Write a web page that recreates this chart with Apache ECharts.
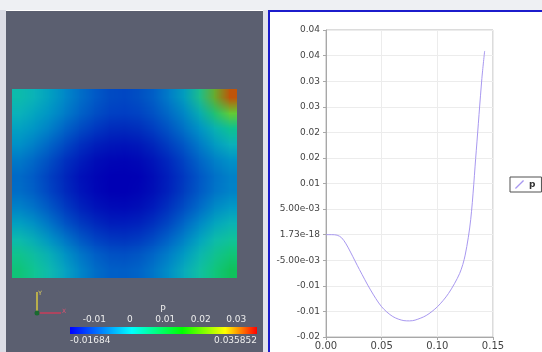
<!DOCTYPE html>
<html>
<head>
<meta charset="utf-8">
<script src="https://cdn.jsdelivr.net/npm/echarts@6/dist/echarts.min.js"></script>
<style>
html, body { margin: 0; padding: 0; background: #ffffff; }
#main { width: 542px; height: 352px; position: relative; }
/* the field is drawn one pixel per cell and scaled up, so the browser blends the cells */
#field {
  position: absolute;
  left: 12px;
  top: 89px;
  width: 15px;
  height: 12px;
  transform: scale(15, 15.75);
  transform-origin: 0 0;
  z-index: 2;
}
</style>
</head>
<body>
<div id="main"></div>
<div id="field"></div>
<script>
// pressure along the diagonal probe line (right panel)
var probeX = [0, 0.005, 0.010, 0.014, 0.018, 0.022, 0.03, 0.04, 0.05, 0.06, 0.07, 0.075, 0.08, 0.09, 0.10, 0.11, 0.12, 0.125, 0.13, 0.135, 0.14, 0.1425];
var probeP = [0, 0, -0.0001, -0.0006, -0.0018, -0.0034, -0.0068, -0.0108, -0.0141, -0.0160, -0.0168, -0.01685, -0.0167, -0.0158, -0.0141, -0.0115, -0.0076, -0.0040, 0.0030, 0.0165, 0.0305, 0.0359];
var yTickLabels = ["-0.02", "-0.01", "-0.01", "-5.00e-03", "1.73e-18", "5.00e-03", "0.01", "0.02", "0.02", "0.03", "0.03", "0.04", "0.04"];

// colour bar of the field view
var pMin = -0.01684;
var pMax = 0.035852;
var barLabels = [-0.01, 0, 0.01, 0.02, 0.03];
var barTicks = [-0.015, -0.0125, -0.01, -0.0075, -0.005, -0.0025, 0, 0.0025, 0.005, 0.0075, 0.01, 0.0125, 0.015, 0.0175, 0.02, 0.0225, 0.025, 0.0275, 0.03, 0.0325, 0.035];

// pressure field (rows top -> bottom, columns left -> right)
var pressureGrid = [
  [0.004, 0.002, 0.0, -0.003, -0.006, -0.008, -0.0095, -0.0100, -0.0095, -0.008, -0.005, -0.0015, 0.005, 0.020, 0.0358],
  [0.002, 0.0005, -0.0015, -0.004, -0.0065, -0.0085, -0.0100, -0.0105, -0.0100, -0.0088, -0.0065, -0.004, 0.001, 0.010, 0.021],
  [0.0, -0.0015, -0.0035, -0.006, -0.0085, -0.0105, -0.0118, -0.0122, -0.0118, -0.0105, -0.0085, -0.0058, -0.0025, 0.002, 0.008],
  [-0.002, -0.0035, -0.0058, -0.0085, -0.011, -0.0128, -0.0138, -0.0142, -0.0138, -0.0126, -0.0106, -0.008, -0.005, -0.0015, 0.002],
  [-0.0045, -0.0062, -0.0085, -0.011, -0.013, -0.0148, -0.0157, -0.016, -0.0156, -0.0145, -0.0127, -0.0103, -0.0075, -0.0045, -0.0022],
  [-0.0065, -0.008, -0.0102, -0.0125, -0.0145, -0.0158, -0.0165, -0.0167, -0.0164, -0.0155, -0.0138, -0.0117, -0.009, -0.0065, -0.0045],
  [-0.0068, -0.0082, -0.0104, -0.0127, -0.0147, -0.016, -0.0167, -0.0168, -0.0166, -0.0157, -0.014, -0.0118, -0.0092, -0.0068, -0.005],
  [-0.005, -0.0068, -0.009, -0.0115, -0.0137, -0.0152, -0.016, -0.0162, -0.0158, -0.0148, -0.013, -0.0105, -0.0078, -0.005, -0.003],
  [-0.002, -0.0038, -0.0065, -0.0093, -0.0118, -0.0135, -0.0145, -0.0148, -0.0144, -0.0132, -0.0112, -0.0085, -0.0055, -0.0022, 0.0005],
  [0.002, 0.0, -0.003, -0.0062, -0.009, -0.011, -0.0122, -0.0126, -0.0121, -0.0108, -0.0087, -0.0058, -0.0025, 0.0015, 0.0045],
  [0.006, 0.0035, 0.0005, -0.0028, -0.006, -0.0083, -0.0098, -0.0102, -0.0097, -0.0082, -0.006, -0.003, 0.0005, 0.0045, 0.008],
  [0.0095, 0.0068, 0.0035, 0.0, -0.0035, -0.0062, -0.0078, -0.0083, -0.0078, -0.0062, -0.0038, -0.0005, 0.0035, 0.0075, 0.0115]
];

var font = "DejaVu Sans";
var colIdx = pressureGrid[0].map(function (v, i) { return i; });
var rowIdx = pressureGrid.map(function (r, j) { return j; });
var heatData = [];
for (var j = 0; j < pressureGrid.length; j++) {
  for (var i = 0; i < pressureGrid[j].length; i++) {
    heatData.push([i, j, pressureGrid[j][i]]);
  }
}
var lineData = [];
for (var k = 0; k < probeX.length; k++) {
  lineData.push([probeX[k], probeP[k]]);
}

// left: pressure field
var fieldChart = echarts.init(document.getElementById("field"), null, { width: 15, height: 12, devicePixelRatio: 1 });
fieldChart.setOption({
  animation: false,
  grid: { left: 0, top: 0, right: 0, bottom: 0 },
  xAxis: { type: "category", data: colIdx, show: false },
  yAxis: { type: "category", data: rowIdx, inverse: true, show: false },
  visualMap: {
    show: false,
    min: pMin,
    max: pMax,
    inRange: {
      color: ["#0000b4", "#0034c0", "#0068c8", "#0098c8", "#10bcb4", "#10c88c", "#10c058", "#30c030", "#90d010", "#e0e000", "#f08000", "#e02000"]
    }
  },
  series: [{
    type: "heatmap",
    data: heatData,
    silent: true,
    emphasis: { disabled: true }
  }]
});

// right: line plot + panel decorations
var myChart = echarts.init(document.getElementById("main"));
myChart.setOption({
  animation: false,
  backgroundColor: "#ffffff",
  graphic: [
    { type: "rect", z: -10, shape: { x: 0, y: 0, width: 542, height: 10 }, style: { fill: "#eef0f3" } },
    { type: "rect", z: -10, shape: { x: 0, y: 10, width: 6, height: 342 }, style: { fill: "#dcdde6" } },
    { type: "rect", z: -10, shape: { x: 6, y: 11, width: 257, height: 341 }, style: { fill: "#5b5f70" } },
    { type: "rect", z: -10, shape: { x: 263, y: 10, width: 5, height: 342 }, style: { fill: "#e2e3ea" } },
    { type: "rect", z: -9, shape: { x: 268, y: 10, width: 274, height: 2 }, style: { fill: "#1c1ccc" } },
    { type: "rect", z: -9, shape: { x: 268, y: 10, width: 2, height: 342 }, style: { fill: "#1c1ccc" } },
    {
      type: "rect", z: 1,
      shape: { x: 70, y: 327, width: 187, height: 7 },
      style: {
        fill: new echarts.graphic.LinearGradient(0, 0, 1, 0, [
          { offset: 0, color: "#0000ff" },
          { offset: 0.33, color: "#00ffff" },
          { offset: 0.6, color: "#00ff00" },
          { offset: 0.83, color: "#ffff00" },
          { offset: 1, color: "#ff0000" }
        ])
      }
    },
    { type: "text", z: 2, x: 163, y: 310, style: { text: "P", fill: "#eeeeee", font: "9px " + font, align: "center", verticalAlign: "middle" } },
    { type: "text", z: 2, x: 70, y: 341, style: { text: "-0.01684", fill: "#eeeeee", font: "9px " + font, align: "left", verticalAlign: "middle" } },
    { type: "text", z: 2, x: 257, y: 341, style: { text: "0.035852", fill: "#eeeeee", font: "9px " + font, align: "right", verticalAlign: "middle" } },
    { type: "line", z: 2, shape: { x1: 37, y1: 292, x2: 37, y2: 313 }, style: { stroke: "#d8c840", lineWidth: 1.5 } },
    { type: "line", z: 2, shape: { x1: 37, y1: 313, x2: 61, y2: 313 }, style: { stroke: "#c83c5a", lineWidth: 1.5 } },
    { type: "circle", z: 3, shape: { cx: 37, cy: 313, r: 2.5 }, style: { fill: "#1a6a30" } },
    { type: "text", z: 2, x: 40, y: 293, style: { text: "Y", fill: "#e0d060", font: "6px " + font, align: "center", verticalAlign: "middle" } },
    { type: "text", z: 2, x: 64, y: 311, style: { text: "X", fill: "#e05070", font: "6px " + font, align: "center", verticalAlign: "middle" } }
  ],
  grid: [
    { left: 70, top: 327, width: 187, height: 7 },
    { left: 326, top: 30, width: 167, height: 307, show: true, borderColor: "#b8b8b8", borderWidth: 1 }
  ],
  legend: {
    data: [{ name: "p", icon: "path://M0,9L9,0L10,1L1,10Z" }],
    left: 510,
    top: 177,
    padding: [3, 6, 3, 5],
    borderColor: "#505050",
    borderWidth: 1,
    itemWidth: 9,
    itemHeight: 9,
    textStyle: { fontFamily: font, fontSize: 9, fontWeight: "bold", color: "#333333" }
  },
  xAxis: [
    {
      gridIndex: 0,
      type: "value",
      min: pMin,
      max: pMax,
      position: "top",
      axisLine: { show: false },
      splitLine: { show: false },
      axisTick: { show: true, customValues: barTicks, length: 3, lineStyle: { color: "#e6e6e6" } },
      axisLabel: {
        customValues: barLabels,
        margin: 3,
        color: "#eeeeee",
        fontFamily: font,
        fontSize: 9,
        formatter: function (v) { return Math.abs(v) < 1e-9 ? "0" : v.toFixed(2); }
      }
    },
    {
      gridIndex: 1,
      type: "value",
      min: 0,
      max: 0.15,
      interval: 0.05,
      axisLine: { onZero: false, lineStyle: { color: "#a8a8a8" } },
      axisTick: { length: 3, lineStyle: { color: "#a8a8a8" } },
      splitLine: { lineStyle: { color: "#ececec" } },
      axisLabel: {
        margin: 4,
        color: "#444444",
        fontFamily: font,
        fontSize: 10,
        formatter: function (v) { return v.toFixed(2); }
      }
    }
  ],
  yAxis: [
    { gridIndex: 0, type: "value", show: false },
    {
      gridIndex: 1,
      type: "value",
      min: -0.02,
      max: 0.04,
      interval: 0.005,
      axisLine: { show: true, onZero: false, lineStyle: { color: "#a8a8a8" } },
      axisTick: { show: true, length: 3, lineStyle: { color: "#a8a8a8" } },
      splitLine: { lineStyle: { color: "#ececec" } },
      axisLabel: {
        margin: 6,
        color: "#444444",
        fontFamily: font,
        fontSize: 9,
        formatter: function (v) {
          return yTickLabels[Math.round((v + 0.02) / 0.005)];
        }
      }
    }
  ],
  series: [
    {
      name: "p",
      type: "line",
      xAxisIndex: 1,
      yAxisIndex: 1,
      data: lineData,
      showSymbol: false,
      smooth: 0.3,
      lineStyle: { color: "#a898f0", width: 1 },
      itemStyle: { color: "#a898f0" }
    }
  ]
});
</script>
</body>
</html>
